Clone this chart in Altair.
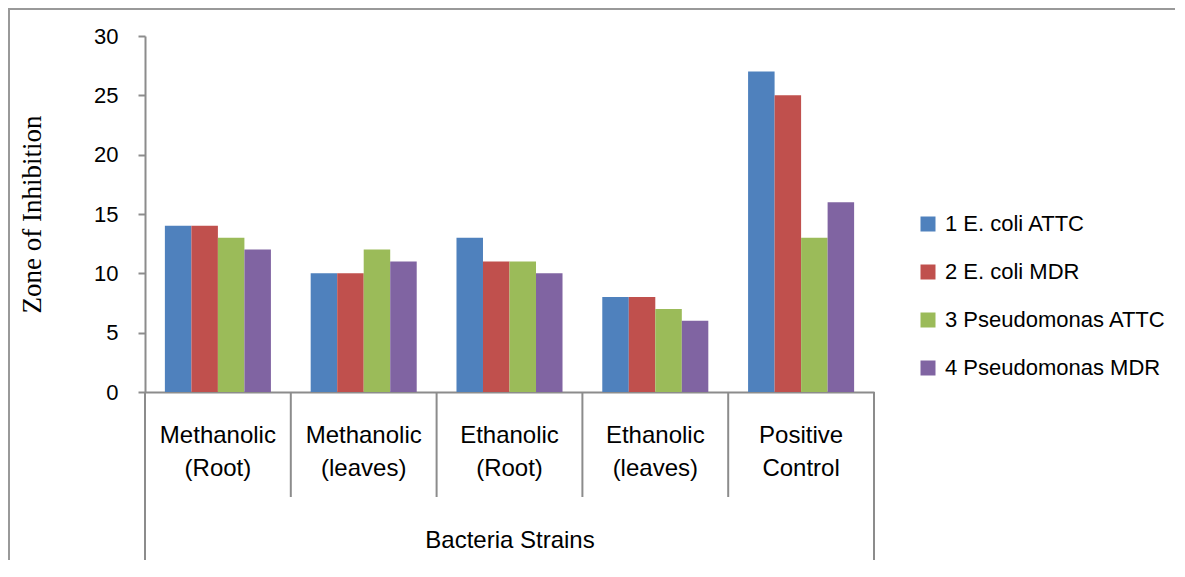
import altair as alt
import pandas as pd

categories = ["Methanolic (Root)", "Methanolic (leaves)", "Ethanolic (Root)", "Ethanolic (leaves)", "Positive Control"]
series = ["1 E. coli ATTC", "2 E. coli MDR", "3 Pseudomonas ATTC", "4 Pseudomonas MDR"]
ecoli_attc = [14, 10, 13, 8, 27]
ecoli_mdr = [14, 10, 11, 8, 25]
pseudo_attc = [13, 12, 11, 7, 13]
pseudo_mdr = [12, 11, 10, 6, 16]
colors = ["#4F81BD", "#C0504D", "#9BBB59", "#8064A2"]

rows = []
for s, vals in zip(series, [ecoli_attc, ecoli_mdr, pseudo_attc, pseudo_mdr]):
    for c, v in zip(categories, vals):
        rows.append({"category": c, "series": s, "value": v})
df = pd.DataFrame(rows)
sep_df = pd.DataFrame({"category": categories[1:]})

W, H = 729, 356
TOTAL_H = 552
TOTAL_W = 1167
AXIS_GRAY = "#8c8c8c"
SANS = "Liberation Sans"

xscale = alt.Scale(domain=categories, paddingInner=0, paddingOuter=0)

bars = alt.Chart(df).mark_bar().encode(
    x=alt.X("category:N", scale=xscale, sort=categories,
            axis=alt.Axis(title="Bacteria Strains", labelExpr="split(datum.label, ' ')",
                          labelAngle=0, labelFontSize=24, labelFont=SANS, labelColor="#000",
                          labelLineHeight=33, labelBaseline="alphabetic", labelPadding=50,
                          ticks=False, tickSize=0, domainColor=AXIS_GRAY, domainWidth=2,
                          labelLimit=200,
                          titleFont=SANS, titleFontSize=24, titleFontWeight="normal",
                          titleColor="#000", titleX=W / 2, titleY=155,
                          titleBaseline="alphabetic", titleAlign="center")),
    xOffset=alt.XOffset("series:N", sort=series,
                        scale=alt.Scale(paddingInner=0, paddingOuter=0.75)),
    y=alt.Y("value:Q", scale=alt.Scale(domain=[0, 30]),
            axis=alt.Axis(title="Zone of Inhibition", values=[0, 5, 10, 15, 20, 25, 30],
                          grid=False, tickSize=7, tickColor=AXIS_GRAY, tickWidth=2,
                          domainColor=AXIS_GRAY, domainWidth=2,
                          labelFontSize=22, labelFont=SANS, labelColor="#000", labelPadding=20,
                          titleFont="Liberation Serif", titleFontSize=27,
                          titleFontWeight="normal", titleColor="#000",
                          titleX=-113, titleY=H / 2, titleAngle=-90,
                          titleAlign="center", titleBaseline="middle")),
    color=alt.Color("series:N", sort=series, scale=alt.Scale(domain=series, range=colors),
                    legend=alt.Legend(title=None, orient="none", legendX=772, legendY=177,
                                      symbolType="square", symbolSize=225,
                                      symbolStrokeWidth=0, labelFontSize=22, labelFont=SANS,
                                      labelColor="#000", rowPadding=26, labelOffset=6,
                                      labelLimit=400)),
)

seps = alt.Chart(sep_df).mark_rule(color=AXIS_GRAY, strokeWidth=2).encode(
    x=alt.X("category:N", bandPosition=0, scale=xscale, sort=categories),
    y=alt.value(H), y2=alt.value(H + 105),
)

outer_left = alt.Chart(pd.DataFrame({"a": [0]})).mark_rule(color=AXIS_GRAY, strokeWidth=2).encode(
    x=alt.value(0), y=alt.value(H), y2=alt.value(TOTAL_H - 28))
outer_right = alt.Chart(pd.DataFrame({"a": [0]})).mark_rule(color=AXIS_GRAY, strokeWidth=2).encode(
    x=alt.value(W), y=alt.value(H), y2=alt.value(TOTAL_H - 28))

frame_left = alt.Chart(pd.DataFrame({"a": [0]})).mark_rule(color="#999999", strokeWidth=2).encode(
    x=alt.value(-136), y=alt.value(-28), y2=alt.value(TOTAL_H - 28))
frame_top = alt.Chart(pd.DataFrame({"a": [0]})).mark_rule(color="#999999", strokeWidth=2).encode(
    x=alt.value(-137), x2=alt.value(TOTAL_W - 137), y=alt.value(-27))

chart = alt.layer(bars, seps, outer_left, outer_right, frame_left, frame_top).properties(
    width=W, height=H,
    autosize=alt.AutoSizeParams(type="none"),
    padding={"left": 137, "top": 28, "right": TOTAL_W - 137 - W, "bottom": TOTAL_H - 28 - H},
).configure(background="white").configure_view(stroke=None, strokeWidth=0)

chart.save("out.html", embed_options={"renderer": "svg", "actions": False})
